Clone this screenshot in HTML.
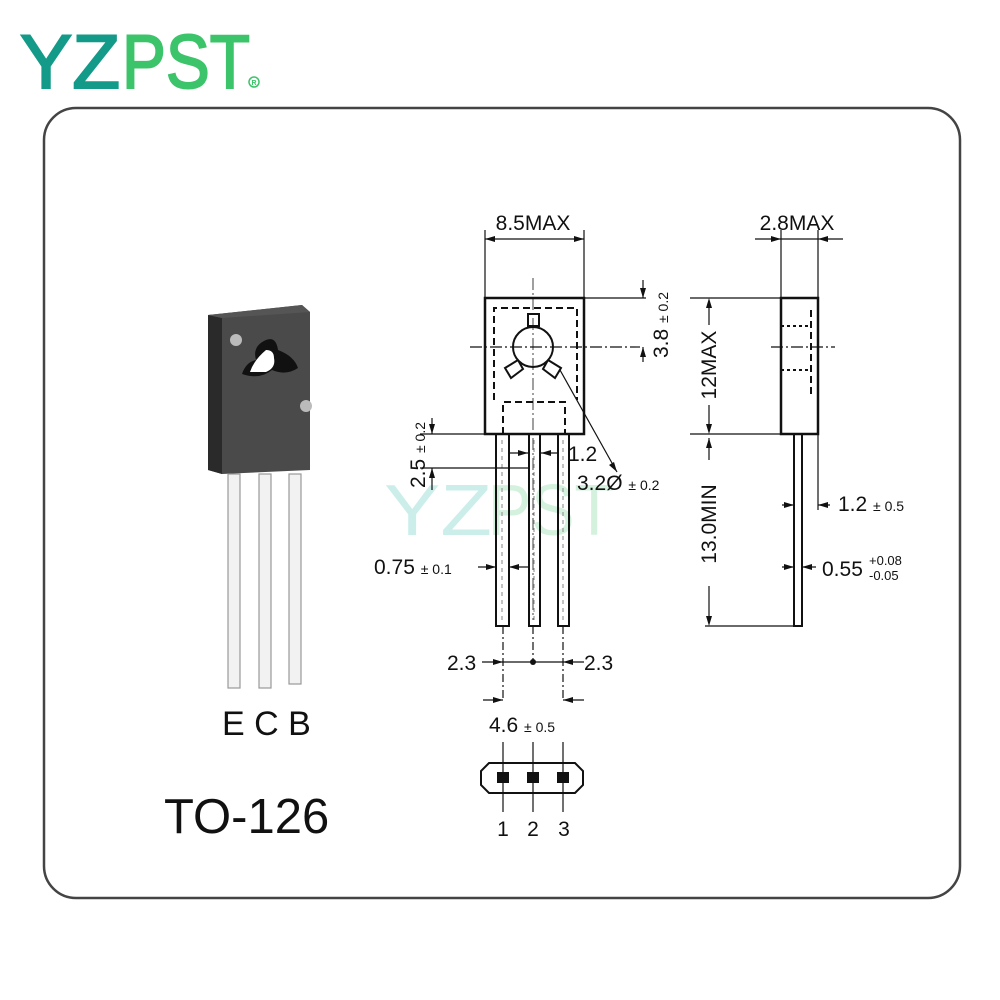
<!DOCTYPE html>
<html><head><meta charset="utf-8"><style>
html,body{margin:0;padding:0;background:#fff;}
svg{display:block;font-family:"Liberation Sans",Arial,sans-serif;}
</style></head><body>
<svg width="1000" height="1000" viewBox="0 0 1000 1000" xmlns="http://www.w3.org/2000/svg">
<rect x="0" y="0" width="1000" height="1000" fill="#fff"/>
<!-- logo -->
<text x="20" y="88" font-size="76" fill="#139a88" stroke="#139a88" stroke-width="2" textLength="100" lengthAdjust="spacingAndGlyphs">YZ</text>
<text x="122" y="88" font-size="76" fill="#3cc46a" stroke="#3cc46a" stroke-width="2" textLength="128" lengthAdjust="spacingAndGlyphs">PST</text>
<circle cx="254" cy="82" r="5" fill="none" stroke="#3cc46a" stroke-width="1.5"/>
<text x="254" y="85" font-size="7" fill="#3cc46a" text-anchor="middle" font-weight="bold">R</text>
<!-- frame -->
<rect x="44" y="108" width="916" height="790" rx="32" fill="none" stroke="#444" stroke-width="2.5"/>

<!-- watermark -->
<g opacity="0.22">
<text x="384" y="535" font-size="72" fill="#19b4a8" textLength="108" lengthAdjust="spacingAndGlyphs">YZ</text>
<text x="488" y="535" font-size="72" fill="#3cc46a" textLength="126" lengthAdjust="spacingAndGlyphs">PST</text>
</g>

<!-- photo -->
<g>
<polygon points="208,315 302,305 310,312 310,470 222,474 208,470" fill="#4a4a4a"/>
<polygon points="208,315 222,318 222,474 208,470" fill="#2a2a2a"/>
<polygon points="208,315 302,305 310,312 222,318" fill="#555"/>
<circle cx="236" cy="340" r="6" fill="#bbb"/>
<circle cx="306" cy="406" r="6" fill="#bbb"/>
<path d="M266 340 q10 -4 12 10 q16 6 20 18 q-12 8 -26 2 q-12 10 -30 4 q4 -12 14 -14 q-4 -14 10 -20z" fill="#111"/>
<path d="M266 350 q8 0 8 8 q2 10 -8 14 l-16 0 q4 -12 16 -22z" fill="#fff"/>
<g fill="#f2f2f2" stroke="#999" stroke-width="1.2">
<rect x="228" y="474" width="12" height="214"/>
<rect x="259" y="474" width="12" height="214"/>
<rect x="289" y="474" width="12" height="210"/>
</g>
</g>
<text x="222" y="735" font-size="34" fill="#111">E C B</text>
<text x="164" y="833" font-size="49" fill="#111">TO-126</text>

<g stroke="#111" fill="none" stroke-width="1.2">
<rect x="485" y="298" width="99" height="136" stroke-width="2.5"/>
<path d="M494 400 V308 H577 V400 M503 434 V402 H565 V434" stroke-dasharray="7,4" stroke-width="2"/>
<rect x="528" y="314" width="11" height="12" stroke-width="2" fill="#fff"/>
<path d="M518 360 l-13 8 l6 10 l12 -9 z M548 360 l13 8 l-6 10 l-12 -9 z" stroke-width="2" fill="#fff"/>
<circle cx="533" cy="347" r="20" stroke-width="2" fill="#fff"/>
<path d="M470 347 H640" stroke-dasharray="12,3,2,3"/>
<path d="M533 278 V620" stroke-dasharray="12,3,2,3" stroke-width="0.8"/>
<path d="M485 230 V298 M584 230 V298 M485 239 H584"/>
<path d="M584 298 H646 M643 280 V298 M643 347 V362"/>
<rect x="496" y="434" width="13" height="192" stroke-width="2"/>
<rect x="529" y="434" width="11" height="192" stroke-width="2"/>
<rect x="558" y="434" width="11" height="192" stroke-width="2"/>
<path d="M502 440 V620 M534 440 V620 M563 440 V620" stroke-dasharray="4,4" stroke="#999"/>
<path d="M420 434 H485 M420 468 H529 M432 418 V434 M432 468 V490"/>
<path d="M510 453 H528 M541 453 H557"/>
<path d="M560 370 L617 472"/>
<path d="M478 567 H496 M509 567 H528"/>
<path d="M503 626 V700 M533 626 V662 M563 626 V700" stroke-dasharray="8,3,2,3"/>
<path d="M482 662 H584"/>
<path d="M483 700 H503 M563 700 H584"/>
<path d="M489 763 H575 L583 771 V785 L575 793 H489 L481 785 V771 Z" stroke-width="2"/>
<path d="M503 742 V812 M533 742 V812 M563 742 V812"/>
<rect x="781" y="298" width="37" height="136" stroke-width="2.5"/>
<path d="M781 326 H811 M781 370 H811" stroke-dasharray="3,3" stroke-width="2"/>
<path d="M811 310 V395" stroke-dasharray="7,4" stroke-width="2"/>
<path d="M771 347 H835" stroke-dasharray="12,3,2,3"/>
<rect x="794" y="434" width="8" height="192" stroke-width="2"/>
<path d="M755 239 H843 M781 230 V298 M818 230 V298"/>
<path d="M690 298 H781 M690 434 H794 M705 626 H794"/>
<path d="M709 303 V325 M709 405 V430 M709 438 V460 M709 586 V622"/>
<path d="M818 434 V510 M782 505 H794 M818 505 H830 M782 567 H794 M802 567 H816"/>
</g>
<g fill="#111">
<path d="M485 239 l10 -3 v6z M584 239 l-10 -3 v6z"/>
<path d="M643 298 l-3 -10 h6z M643 347 l-3 10 h6z"/>
<path d="M432 434 l-3 -10 h6z M432 468 l-3 10 h6z"/>
<path d="M528 453 l-10 -3 v6z M541 453 l10 -3 v6z"/>
<path d="M496 567 l-10 -3 v6z M509 567 l10 -3 v6z"/>
<path d="M503 662 l-10 -3 v6z M563 662 l10 -3 v6z"/>
<circle cx="533" cy="662" r="3"/>
<path d="M503 700 l-10 -3 v6z M563 700 l10 -3 v6z"/>
<path d="M617 472 l-8 -7 l5 -3z"/>
<rect x="497" y="772" width="12" height="11"/>
<rect x="527" y="772" width="12" height="11"/>
<rect x="557" y="772" width="12" height="11"/>
<path d="M781 239 l-10 -3 v6z M818 239 l10 -3 v6z"/>
<path d="M709 298 l-3 10 h6z M709 434 l-3 -10 h6z M709 438 l-3 10 h6z M709 626 l-3 -10 h6z"/>
<path d="M794 505 l-10 -3 v6z M818 505 l10 -3 v6z M794 567 l-10 -3 v6z M802 567 l10 -3 v6z"/>
</g>
<g fill="#111" font-size="21">
<text x="533" y="230" text-anchor="middle">8.5MAX</text>
<text x="797" y="230" text-anchor="middle">2.8MAX</text>
<text transform="translate(668,325) rotate(-90)" text-anchor="middle">3.8 <tspan font-size="14">± 0.2</tspan></text>
<text transform="translate(425,455) rotate(-90)" text-anchor="middle">2.5 <tspan font-size="14">± 0.2</tspan></text>
<text transform="translate(716,365) rotate(-90)" text-anchor="middle">12MAX</text>
<text transform="translate(716,524) rotate(-90)" text-anchor="middle">13.0MIN</text>
<text x="568" y="461">1.2</text>
<text x="577" y="490">3.2Ø <tspan font-size="14">± 0.2</tspan></text>
<text x="374" y="574">0.75 <tspan font-size="14">± 0.1</tspan></text>
<text x="447" y="670">2.3</text>
<text x="584" y="670">2.3</text>
<text x="489" y="732">4.6 <tspan font-size="14">± 0.5</tspan></text>
<text x="838" y="511">1.2 <tspan font-size="14">± 0.5</tspan></text>
<text x="822" y="576">0.55</text>
<text x="869" y="565" font-size="13">+0.08</text>
<text x="869" y="580" font-size="13">-0.05</text>
<text x="503" y="836" text-anchor="middle">1</text>
<text x="533" y="836" text-anchor="middle">2</text>
<text x="564" y="836" text-anchor="middle">3</text>
</g>
</svg>
</body></html>
